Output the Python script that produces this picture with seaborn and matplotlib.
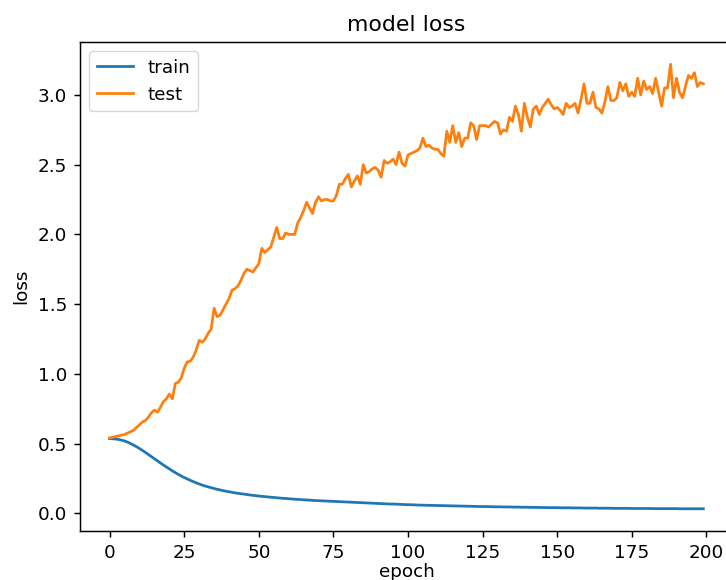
import numpy as np
import pandas as pd
import seaborn as sns
import matplotlib.pyplot as plt

# loss per epoch
train_loss = [
    0.535, 0.534, 0.532, 0.529, 0.524, 0.518, 0.510, 0.500, 0.489, 0.477,
    0.464, 0.450, 0.436, 0.421, 0.406, 0.391, 0.376, 0.361, 0.346, 0.332,
    0.318, 0.304, 0.291, 0.279, 0.267, 0.256, 0.246, 0.236, 0.227, 0.218,
    0.210, 0.202, 0.195, 0.189, 0.183, 0.177, 0.172, 0.167, 0.162, 0.158,
    0.154, 0.150, 0.146, 0.143, 0.140, 0.137, 0.134, 0.131, 0.128, 0.126,
    0.123, 0.121, 0.119, 0.117, 0.115, 0.113, 0.111, 0.109, 0.107, 0.106,
    0.104, 0.102, 0.101, 0.099, 0.098, 0.096, 0.095, 0.094, 0.092, 0.091,
    0.090, 0.089, 0.088, 0.087, 0.086, 0.085, 0.084, 0.083, 0.082, 0.081,
    0.080, 0.079, 0.078, 0.077, 0.076, 0.075, 0.074, 0.073, 0.072, 0.071,
    0.070, 0.069, 0.068, 0.067, 0.066, 0.066, 0.065, 0.064, 0.063, 0.062,
    0.061, 0.061, 0.060, 0.059, 0.058, 0.058, 0.057, 0.057, 0.056, 0.056,
    0.055, 0.055, 0.054, 0.054, 0.053, 0.053, 0.052, 0.052, 0.051, 0.051,
    0.050, 0.050, 0.049, 0.049, 0.048, 0.048, 0.048, 0.047, 0.047, 0.046,
    0.046, 0.046, 0.045, 0.045, 0.045, 0.044, 0.044, 0.044, 0.043, 0.043,
    0.043, 0.042, 0.042, 0.042, 0.041, 0.041, 0.041, 0.040, 0.040, 0.040,
    0.040, 0.039, 0.039, 0.039, 0.039, 0.038, 0.038, 0.038, 0.038, 0.037,
    0.037, 0.037, 0.037, 0.037, 0.036, 0.036, 0.036, 0.036, 0.036, 0.035,
    0.035, 0.035, 0.035, 0.035, 0.035, 0.034, 0.034, 0.034, 0.034, 0.034,
    0.034, 0.034, 0.033, 0.033, 0.033, 0.033, 0.033, 0.033, 0.033, 0.033,
    0.033, 0.032, 0.032, 0.032, 0.032, 0.032, 0.032, 0.032, 0.032, 0.032,
]
test_loss = [
    0.540, 0.545, 0.550, 0.555, 0.560, 0.565, 0.575, 0.585, 0.595, 0.615,
    0.635, 0.655, 0.665, 0.690, 0.720, 0.740, 0.725, 0.760, 0.800, 0.820,
    0.855, 0.820, 0.930, 0.940, 0.970, 1.040, 1.085, 1.090, 1.120, 1.170,
    1.240, 1.226, 1.250, 1.290, 1.320, 1.470, 1.410, 1.420, 1.460, 1.500,
    1.540, 1.600, 1.610, 1.630, 1.670, 1.720, 1.750, 1.740, 1.730, 1.760,
    1.790, 1.900, 1.870, 1.890, 1.910, 1.980, 2.050, 1.970, 1.970, 2.010,
    2.000, 2.000, 2.000, 2.080, 2.120, 2.170, 2.230, 2.190, 2.150, 2.230,
    2.270, 2.240, 2.250, 2.250, 2.240, 2.240, 2.280, 2.360, 2.360, 2.400,
    2.430, 2.340, 2.380, 2.420, 2.360, 2.500, 2.440, 2.450, 2.470, 2.480,
    2.460, 2.410, 2.530, 2.510, 2.520, 2.540, 2.500, 2.590, 2.510, 2.490,
    2.570, 2.580, 2.590, 2.600, 2.620, 2.690, 2.630, 2.640, 2.620, 2.610,
    2.610, 2.580, 2.560, 2.740, 2.660, 2.780, 2.660, 2.730, 2.630, 2.690,
    2.690, 2.800, 2.780, 2.680, 2.780, 2.780, 2.780, 2.770, 2.790, 2.810,
    2.800, 2.720, 2.750, 2.740, 2.840, 2.810, 2.920, 2.860, 2.740, 2.940,
    2.840, 2.770, 2.900, 2.920, 2.860, 2.910, 2.940, 2.970, 2.930, 2.900,
    2.910, 2.890, 2.860, 2.940, 2.910, 2.920, 2.940, 2.870, 2.970, 3.080,
    2.940, 2.940, 3.020, 2.910, 2.900, 2.870, 2.950, 3.060, 2.960, 2.960,
    2.980, 3.090, 3.030, 3.080, 2.990, 3.020, 2.990, 3.120, 3.000, 3.100,
    3.040, 3.060, 3.010, 3.120, 3.020, 2.920, 3.050, 3.050, 3.220, 2.980,
    3.120, 3.020, 2.980, 3.060, 3.140, 3.120, 3.160, 3.060, 3.090, 3.080,
]
epochs = list(range(len(train_loss)))

df = pd.DataFrame({'epoch': epochs, 'train': train_loss, 'test': test_loss})

s = 1.32  # reference is an upscaled default matplotlib figure
plt.rcParams['font.family'] = ['DejaVu Sans']

fig = plt.figure(figsize=(7.26, 5.80), dpi=100)
ax = fig.add_axes([0.1102, 0.0845, 0.8995, 0.843])

sns.lineplot(data=df, x='epoch', y='train', ax=ax, color='#1f77b4', linewidth=1.5 * s, label='train')
sns.lineplot(data=df, x='epoch', y='test', ax=ax, color='#ff7f0e', linewidth=1.5 * s, label='test')

ax.set_xticks([0, 25, 50, 75, 100, 125, 150, 175, 200])
ax.set_yticks([0.0, 0.5, 1.0, 1.5, 2.0, 2.5, 3.0])
ax.set_title('model loss', fontsize=12 * s, pad=6 * s)
ax.set_xlabel('epoch', fontsize=10 * s, labelpad=1)
ax.set_ylabel('loss', fontsize=10 * s, labelpad=4 * s)
ax.tick_params(labelsize=10 * s, length=3.5 * s, width=0.8 * s, pad=3.5 * s)
for sp in ax.spines.values():
    sp.set_linewidth(0.8 * s)
ax.legend(loc='upper left', fontsize=10 * s)

plt.savefig('out.png', dpi=100)
